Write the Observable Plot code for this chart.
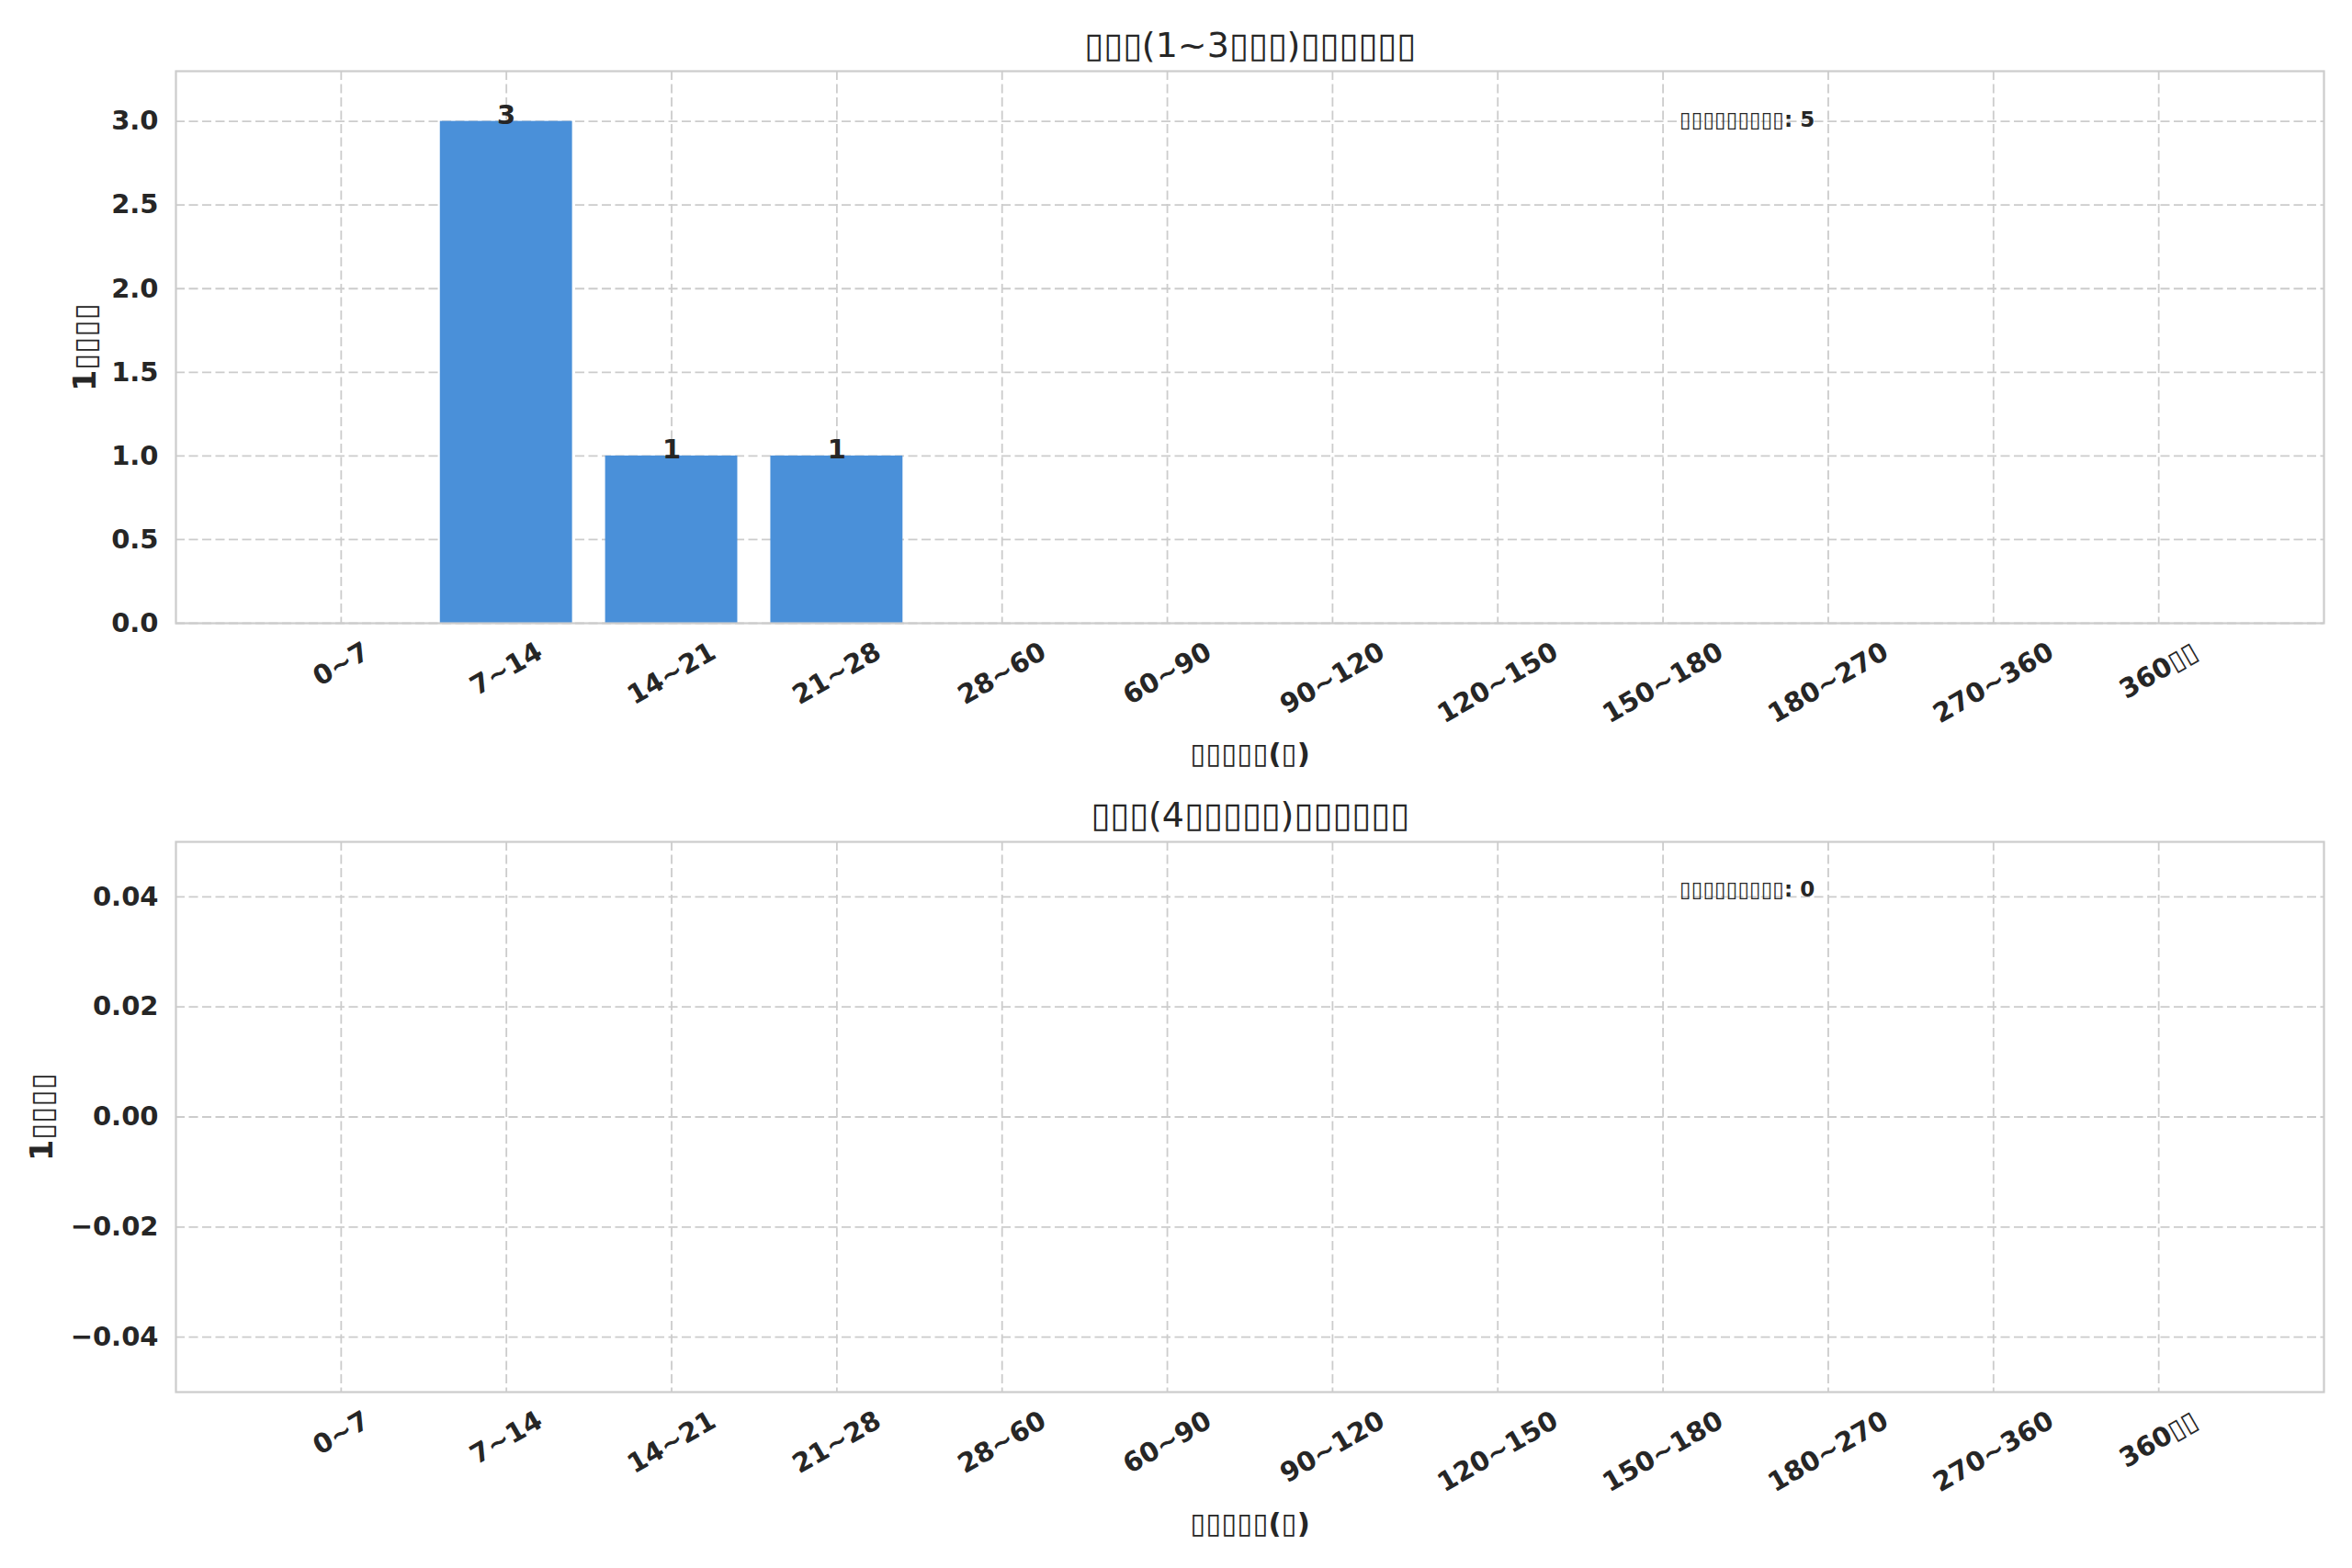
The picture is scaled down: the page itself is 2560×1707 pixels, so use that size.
<!DOCTYPE html>
<html><head><meta charset="utf-8">
<script src="https://cdn.jsdelivr.net/npm/d3@7"></script>
<script src="https://cdn.jsdelivr.net/npm/@observablehq/plot@0.6"></script>
<style>
html,body{margin:0;padding:0;background:#fff;}
#chart svg{display:block;}
</style></head><body><div id="chart"></div>
<script>
// ---- data ----
const categories = ["0~7","7~14","14~21","21~28","28~60","60~90","90~120","120~150","150~180","180~270","270~360","360▯▯"];
const counts1 = [0,3,1,1,0,0,0,0,0,0,0,0];
const counts2 = [0,0,0,0,0,0,0,0,0,0,0,0];
const yTicks1 = [0,0.5,1,1.5,2,2.5,3];
const yTicks2 = [-0.04,-0.02,0,0.02,0.04];
const yDomain1 = [0,3.3];
const yDomain2 = [-0.05,0.05];
const title1 = "▯▯▯(1~3▯▯▯)▯▯▯▯▯▯";
const title2 = "▯▯▯(4▯▯▯▯▯)▯▯▯▯▯▯";
const xLabel = "▯▯▯▯▯(▯)";
const yLabel = "1▯▯▯▯";
const noteLabel = "▯▯▯▯▯▯▯▯▯";
const total1 = 5, total2 = 0;

// ---- style ----
const FONT = "DejaVu Sans";
const INK = "#262626";
const GRID = "#cccccc";
const BAR = "#4a90d9";
const W = 2560, ML = 191, MR = 31;
const TICK_FS = 29;

const canvas = document.createElement("canvas");
const ctx = canvas.getContext("2d");
ctx.font = `bold ${TICK_FS}px "${FONT}"`;
function rotatedHalf(label){
  const w = ctx.measureText(label).width;
  const H = TICK_FS*1.17;
  return (w*Math.sin(Math.PI/6) + H*Math.cos(Math.PI/6))/2;
}

function fmt(dec){
  return d => (d<0 ? "\u2212" : "") + Math.abs(d).toFixed(dec);
}

function panel({counts, yDomain, yTicks, dec, title, total, showLabels, marginTop, plotH, height, yLabelX, titleY, xLabelY}){
  const data = categories.map((c,i)=>({cat:c, v:counts[i]}));
  const plotW = W-ML-MR;
  const mB = height - marginTop - plotH;
  const tickMarks = categories.map(c => Plot.text([c], {
    x: d=>d, frameAnchor:"bottom", rotate:-30, textAnchor:"middle", lineAnchor:"middle",
    dy: 14 + rotatedHalf(c), fontSize:TICK_FS, fontWeight:"bold", fill:INK
  }));
  return Plot.plot({
    width: W, height,
    marginLeft: ML, marginRight: MR, marginTop, marginBottom: mB,
    style:{fontFamily:FONT, background:"white", color:INK},
    x:{type:"band", domain:categories, paddingInner:0.2, paddingOuter:0.6, round:false, axis:null},
    y:{domain:yDomain, axis:null},
    marks:[
      Plot.gridY(yTicks, {stroke:GRID, strokeOpacity:1, strokeWidth:1.8, strokeDasharray:"10,4.5"}),
      Plot.gridX(categories, {stroke:GRID, strokeOpacity:1, strokeWidth:1.8, strokeDasharray:"10,4.5"}),
      Plot.barY(data, {x:"cat", y:"v", fill:BAR}),
      Plot.frame({stroke:GRID, strokeWidth:2.2}),
      Plot.axisY(yTicks, {tickSize:0, tickPadding:19, fontSize:TICK_FS, fontWeight:"bold", tickFormat:fmt(dec), label:null, color:INK}),
      ...tickMarks,
      showLabels ? Plot.text(data.filter(d=>d.v>0), {x:"cat", y:"v", text:d=>String(d.v), lineAnchor:"bottom", dy:3, fontSize:TICK_FS, fontWeight:"bold", fill:INK}) : null,
      Plot.text([title], {frameAnchor:"top", textAnchor:"middle", dy: titleY - marginTop, fontSize:38, lineAnchor:"middle", fill:INK}),
      Plot.text([xLabel], {frameAnchor:"bottom", textAnchor:"middle", dy: xLabelY - (marginTop+plotH), fontSize:31, fontWeight:"bold", lineAnchor:"middle", fill:INK}),
      Plot.text([yLabel], {frameAnchor:"left", textAnchor:"middle", dx: yLabelX - ML, rotate:-90, fontSize:33, fontWeight:"bold", lineAnchor:"middle", fill:INK}),
      Plot.text([`${noteLabel}: ${total}`], {frameAnchor:"top-left", dx: 0.7*plotW, dy: 0.1*plotH, textAnchor:"start", lineAnchor:"bottom", fontSize:23, fontWeight:"bold", fill:INK})
    ]
  });
}

const root = document.getElementById("chart");
root.append(panel({counts:counts1, yDomain:yDomain1, yTicks:yTicks1, dec:1, title:title1, total:total1, showLabels:true,
  marginTop:77, plotH:601, height:860, yLabelX:93, titleY:49, xLabelY:821}));
root.append(panel({counts:counts2, yDomain:yDomain2, yTicks:yTicks2, dec:2, title:title2, total:total2, showLabels:false,
  marginTop:56, plotH:599, height:847, yLabelX:46, titleY:27, xLabelY:799}));
</script>
</body></html>
